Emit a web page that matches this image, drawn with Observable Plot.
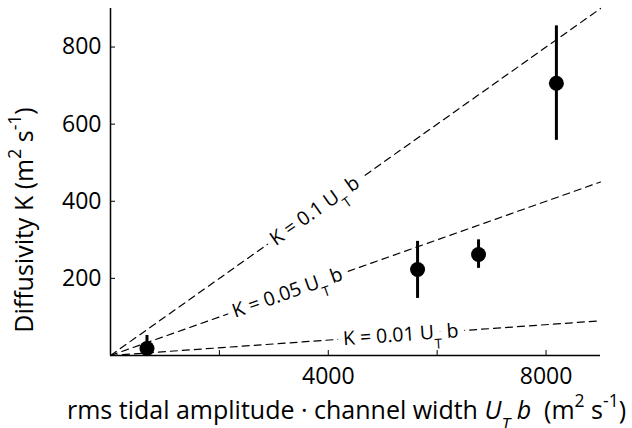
<!DOCTYPE html>
<html><head><meta charset="utf-8">
<script src="https://cdn.jsdelivr.net/npm/d3@7"></script>
<script src="https://cdn.jsdelivr.net/npm/@observablehq/plot@0.6"></script>
<style>body{margin:0;background:#fff}</style>
</head><body><div id="chart"></div>
<script>
// data
const xs = [670, 5640, 6760, 8190];
const ys = [18, 223, 262, 706];
const yHi = [52, 296, 300, 855];
const yLo = [-16, 148, 226, 558];
const slopes = [0.1, 0.05, 0.01];
const lineLabels = ["K = 0.1 U_{T} b", "K = 0.05 U_{T} b", "K = 0.01 U_{T} b"];
const labelX = [3750, 3250, 5330];
const xTicks = [2000, 4000, 6000, 8000];
const xTickLabels = [4000, 8000];
const yTicks = [200, 400, 600, 800];
const xMax = 9000, yMax = 900;
const xLabel = "rms tidal amplitude · channel width *U_{T} b*  (m^{2} s^{-1})";
const yLabel = "Diffusivity K (m^{2} s^{-1})";

const W = 632, H = 428, mL = 110, mR = 32, mT = 8, mB = 73;
const plotW = W - mL - mR, plotH = H - mT - mB;

const points = xs.map((x, i) => ({x, y: ys[i], lo: yLo[i], hi: yHi[i]}));
const lines = slopes.flatMap(s => [{s, x: 0, y: 0}, {s, x: xMax, y: s * xMax}]);
const labels = slopes.map((s, i) => ({s, x: labelX[i], y: s * labelX[i], text: lineLabels[i],
  angle: -Math.atan((s * xMax / yMax) * plotH / plotW) * 180 / Math.PI}));

const labelOpts = {x: "x", y: "y", text: "text", rotate: "angle", fontSize: 19.5};

const chart = Plot.plot({
  width: W, height: H,
  marginLeft: mL, marginRight: mR, marginTop: mT, marginBottom: mB,
  style: {fontFamily: "'Open Sans', sans-serif", fontSize: "18px", color: "black", background: "white"},
  x: {domain: [0, xMax]},
  y: {domain: [0, yMax]},
  marks: [
    Plot.line(lines, {x: "x", y: "y", z: "s", stroke: "black", strokeWidth: 1.2, strokeDasharray: "7,5"}),
    // white halo behind the line labels (breaks the dashed line)
    Plot.text(labels, {...labelOpts, fill: "white", stroke: "white", strokeWidth: 14, strokeLinejoin: "round"}),
    Plot.text(labels, {...labelOpts, fill: "black"}),
    Plot.ruleX(points, {x: "x", y1: "lo", y2: "hi", stroke: "black", strokeWidth: 3, clip: true}),
    Plot.dot(points, {x: "x", y: "y", r: 7.5, fill: "black"}),
    Plot.ruleX([0], {stroke: "black", strokeWidth: 1.5}),
    Plot.ruleY([0], {stroke: "black", strokeWidth: 1.5}),
    Plot.axisX(xTicks, {tickSize: -5, tickPadding: 17, fontSize: 23, label: null,
      tickFormat: d => xTickLabels.includes(d) ? String(d) : ""}),
    Plot.axisY(yTicks, {tickSize: -5, tickPadding: 14, fontSize: 23, label: null,
      tickFormat: d => String(d)}),
    Plot.text([xLabel], {frameAnchor: "bottom", textAnchor: "middle", lineAnchor: "middle",
      dx: -9, dy: 55, fontSize: 25, fill: "black"}),
    Plot.text([yLabel], {frameAnchor: "left", textAnchor: "middle", lineAnchor: "middle",
      rotate: -90, dx: -86, dy: 38, fontSize: 25, fill: "black"})
  ]
});

// rich text: _{sub}, ^{sup}, *italic*
function rich(el) {
  const s = el.textContent;
  if (!/_\{|\^\{|\*/.test(s)) return;
  el.textContent = "";
  const re = /(_\{[^}]*\}|\^\{[^}]*\}|\*)/g;
  let italic = false, last = 0, m;
  const add = (str, kind) => {
    if (!str) return;
    const t = document.createElementNS("http://www.w3.org/2000/svg", "tspan");
    t.textContent = str;
    if (italic) t.setAttribute("font-style", "italic");
    if (kind) {
      t.setAttribute("baseline-shift", kind === "sub" ? "sub" : "super");
      t.setAttribute("font-size", "70%");
    }
    el.appendChild(t);
  };
  while ((m = re.exec(s))) {
    add(s.slice(last, m.index));
    const tok = m[0];
    if (tok === "*") italic = !italic;
    else add(tok.slice(2, -1), tok[0] === "_" ? "sub" : "sup");
    last = re.lastIndex;
  }
  add(s.slice(last));
}
chart.querySelectorAll("text").forEach(rich);
document.getElementById("chart").append(chart);
</script>
</body></html>
